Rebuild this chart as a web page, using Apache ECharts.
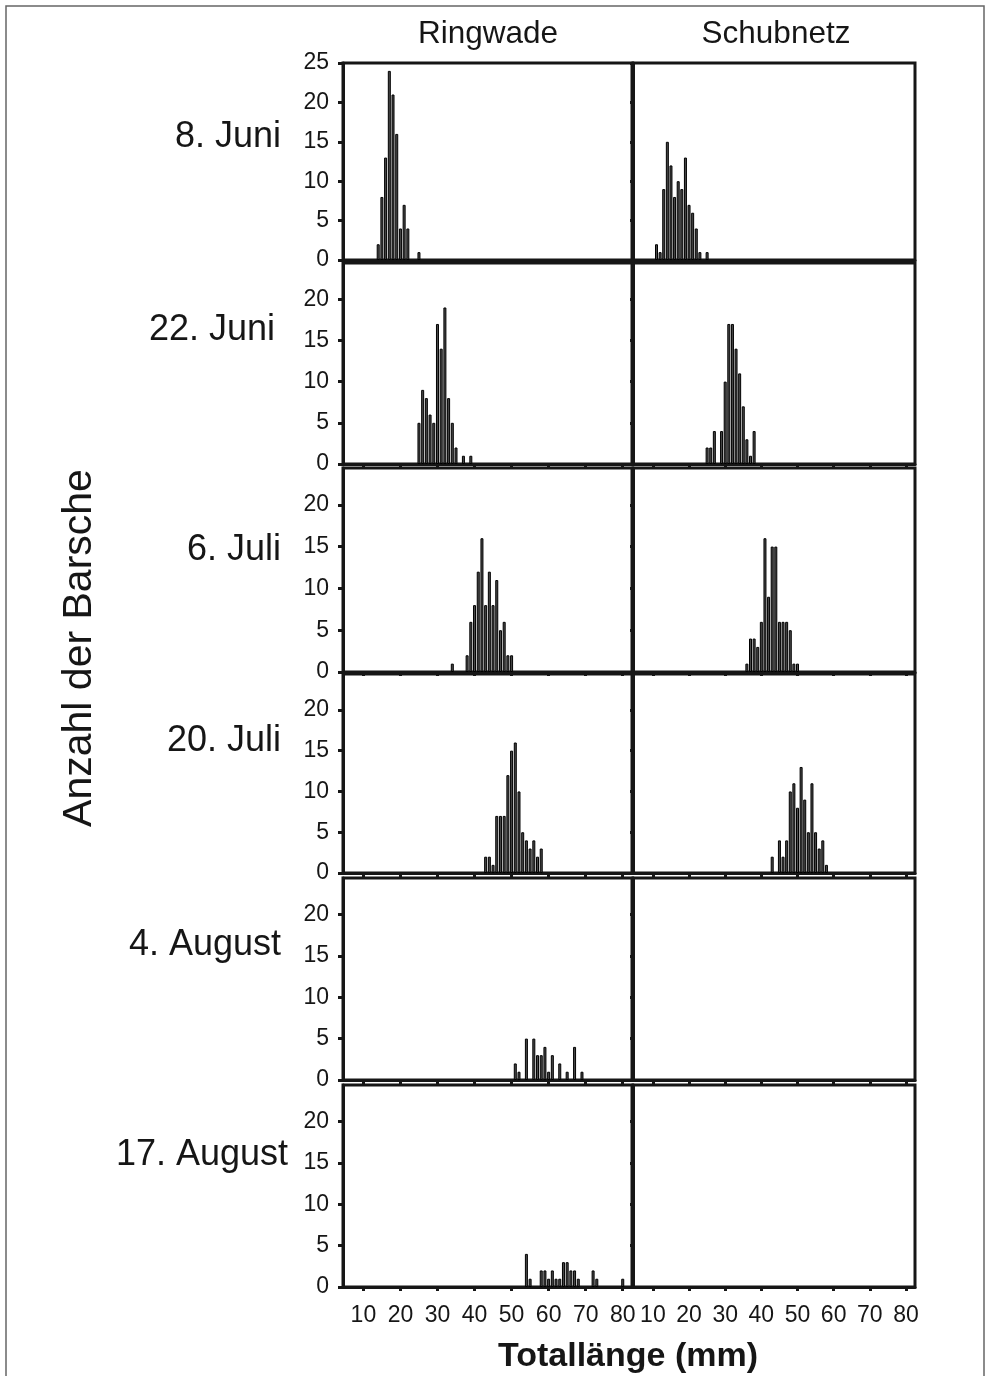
<!DOCTYPE html>
<html>
<head>
<meta charset="utf-8">
<title>Barsche Totallänge</title>
<script src="https://cdn.jsdelivr.net/npm/echarts@6/dist/echarts.min.js"></script>
<style>
  html, body { margin: 0; padding: 0; background: #fff; }
  #chart { width: 994px; height: 1376px; }
</style>
</head>
<body>
<div id="chart"></div>
<script>
// Kategorien
const dates = ['8. Juni', '22. Juni', '6. Juli', '20. Juli', '4. August', '17. August'];
const gears = ['Ringwade', 'Schubnetz'];
const xTicks = [10, 20, 30, 40, 50, 60, 70, 80];
const yTicksFirst = [0, 5, 10, 15, 20, 25];
const yTicks = [0, 5, 10, 15, 20];

// Häufigkeiten [Totallänge mm, Anzahl] - Ringwade
const juni08Ring = [[14, 2], [15, 8], [16, 13], [17, 24], [18, 21], [19, 16], [20, 4], [21, 7], [22, 4], [25, 1]];
const juni22Ring = [[25, 5], [26, 9], [27, 8], [28, 6], [29, 5], [30, 17], [31, 14], [32, 19], [33, 8], [34, 5], [35, 2], [37, 1], [39, 1]];
const juli06Ring = [[34, 1], [38, 2], [39, 6], [40, 8], [41, 12], [42, 16], [43, 8], [44, 12], [45, 8], [46, 11], [47, 5], [48, 6], [49, 2], [50, 2]];
const juli20Ring = [[43, 2], [44, 2], [45, 1], [46, 7], [47, 7], [48, 7], [49, 12], [50, 15], [51, 16], [52, 10], [53, 5], [54, 4], [55, 3], [56, 4], [57, 2], [58, 3]];
const aug04Ring = [[51, 2], [52, 1], [54, 5], [56, 5], [57, 3], [58, 3], [59, 4], [60, 1], [61, 3], [63, 2], [65, 1], [67, 4], [69, 1]];
const aug17Ring = [[54, 4], [55, 1], [58, 2], [59, 2], [60, 1], [61, 2], [62, 1], [63, 1], [64, 3], [65, 3], [66, 2], [67, 2], [68, 1], [72, 2], [73, 1], [80, 1]];

// Häufigkeiten - Schubnetz
const juni08Schub = [[11, 2], [12, 1], [13, 9], [14, 15], [15, 12], [16, 8], [17, 10], [18, 9], [19, 13], [20, 7], [21, 6], [22, 4], [23, 1], [25, 1]];
const juni22Schub = [[25, 2], [26, 2], [27, 4], [29, 4], [30, 10], [31, 17], [32, 17], [33, 14], [34, 11], [35, 7], [36, 3], [37, 1], [38, 4]];
const juli06Schub = [[36, 1], [37, 4], [38, 4], [39, 3], [40, 6], [41, 16], [42, 9], [43, 15], [44, 15], [45, 6], [46, 6], [47, 6], [48, 5], [49, 1], [50, 1]];
const juli20Schub = [[43, 2], [45, 4], [46, 2], [47, 4], [48, 10], [49, 11], [50, 8], [51, 13], [52, 9], [53, 5], [54, 11], [55, 5], [56, 3], [57, 4], [58, 1]];
const aug04Schub = [];
const aug17Schub = [];

const ringwade = [juni08Ring, juni22Ring, juli06Ring, juli20Ring, aug04Ring, aug17Ring];
const schubnetz = [juni08Schub, juni22Schub, juli06Schub, juli20Schub, aug04Schub, aug17Schub];

// Layout der Felder (Pixel)
const rowTop = [63, 263, 468, 674, 878, 1085];
const rowHeight = [197, 201, 204, 199, 202, 202];
const rowMax = [25, 24.4, 24.4, 24.4, 24.4, 24.4];
const colLeft = [343, 633];
const colWidth = [289, 282];
const labelRight = [281, 275, 281, 281, 281, 288];
const labelY = [137, 330, 550, 741, 945, 1155];

const ink = '#161616';
const font = 'Liberation Sans, Arial, Helvetica, sans-serif';

const chart = echarts.init(document.getElementById('chart'));

const grid = [], xAxis = [], yAxis = [], series = [];
const graphic = [];

dates.forEach((d, r) => {
    [ringwade[r], schubnetz[r]].forEach((values, c) => {
        const idx = grid.length;
        const lastRow = r === dates.length - 1;
        const ticks = r === 0 ? yTicksFirst : yTicks;
        grid.push({
            left: colLeft[c], top: rowTop[r], width: colWidth[c], height: rowHeight[r],
            show: true, borderColor: ink, borderWidth: 3, backgroundColor: 'transparent'
        });
        xAxis.push({
            type: 'value', gridIndex: idx, min: 4.5, max: 82.5,
            axisLine: {show: true, lineStyle: {color: ink, width: 3}},
            axisTick: {show: true, customValues: xTicks, length: 4, lineStyle: {color: ink, width: 3}},
            axisLabel: {
                show: lastRow, customValues: xTicks, margin: 17,
                color: ink, fontSize: 23, fontFamily: font
            },
            splitLine: {show: false}
        });
        yAxis.push({
            type: 'value', gridIndex: idx, min: 0, max: rowMax[r],
            axisLine: {show: true, lineStyle: {color: ink, width: 3}},
            axisTick: {show: true, customValues: ticks, length: c === 0 ? 5 : 3, lineStyle: {color: ink, width: 3}},
            axisLabel: {
                show: c === 0, customValues: ticks, margin: 14,
                color: ink, fontSize: 23, fontFamily: font
            },
            splitLine: {show: false}
        });
        series.push({
            type: 'bar', xAxisIndex: idx, yAxisIndex: idx,
            data: values, barWidth: 3,
            itemStyle: {color: '#4a4a4a', borderColor: '#000', borderWidth: 1},
            silent: true, animation: false
        });
    });

    // Datum links neben der Zeile
    graphic.push({
        type: 'text', x: labelRight[r], y: labelY[r],
        style: {text: d, fill: ink, fontSize: 36, fontFamily: font, align: 'right', verticalAlign: 'middle'}
    });
});

// Spaltenüberschriften
gears.forEach((g, c) => {
    graphic.push({
        type: 'text', x: c === 0 ? 488 : 776, y: 34,
        style: {text: g, fill: ink, fontSize: 31.5, fontFamily: font, align: 'center', verticalAlign: 'middle'}
    });
});

// Achsentitel
graphic.push({
    type: 'text', x: 80, y: 648, rotation: Math.PI / 2,
    style: {text: 'Anzahl der Barsche', fill: ink, fontSize: 41, fontFamily: font, align: 'center', verticalAlign: 'middle'}
});
graphic.push({
    type: 'text', x: 628, y: 1357,
    style: {text: 'Totallänge (mm)', fill: ink, fontSize: 34, fontWeight: 'bold', fontFamily: font, align: 'center', verticalAlign: 'middle'}
});

// Rahmen um die ganze Abbildung
graphic.push({
    type: 'rect', shape: {x: 6, y: 6, width: 978, height: 1390}, silent: true,
    style: {fill: 'none', stroke: '#666', lineWidth: 1.5}
});

chart.setOption({
    backgroundColor: '#fff',
    animation: false,
    grid, xAxis, yAxis, series, graphic
});
</script>
</body>
</html>
